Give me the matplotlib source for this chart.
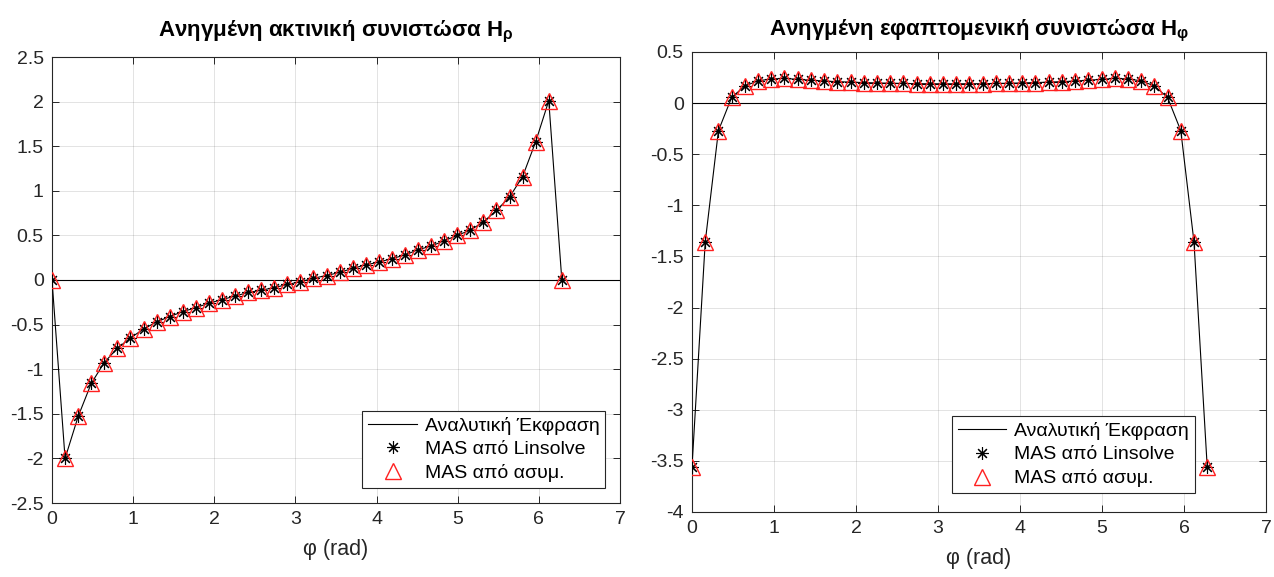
import numpy as np
import matplotlib
matplotlib.use("Agg")
import matplotlib.pyplot as plt
from matplotlib.lines import Line2D

plt.rcParams['font.family'] = ['Liberation Sans', 'DejaVu Sans']
plt.rcParams['axes.unicode_minus'] = False
plt.rcParams['mathtext.fontset'] = 'custom'
plt.rcParams['mathtext.rm'] = 'Liberation Sans'
plt.rcParams['mathtext.bf'] = 'Liberation Sans:bold'

# 40 σημεία στο [0, 2π]
phi = np.linspace(0, 2 * np.pi, 40)

# Ανηγμένη ακτινική συνιστώσα H_rho
h_rho = [0.0, -2.00, -1.53, -1.16, -0.925, -0.765, -0.65, -0.55, -0.47, -0.41,
         -0.355, -0.31, -0.26, -0.22, -0.18, -0.14, -0.115, -0.085, -0.05, -0.02,
         0.02, 0.05, 0.085, 0.13, 0.17, 0.20, 0.24, 0.28, 0.34, 0.38,
         0.44, 0.50, 0.56, 0.65, 0.78, 0.93, 1.16, 1.55, 2.01, 0.0]

# Ανηγμένη εφαπτομενική συνιστώσα H_phi
h_phi = [-3.56, -1.36, -0.27, 0.055, 0.168, 0.218, 0.236, 0.242, 0.232, 0.224,
         0.216, 0.210, 0.205, 0.201, 0.197, 0.194, 0.192, 0.190, 0.189, 0.189,
         0.189, 0.189, 0.190, 0.192, 0.194, 0.197, 0.201, 0.205, 0.210, 0.216,
         0.224, 0.232, 0.242, 0.236, 0.218, 0.168, 0.055, -0.27, -1.36, -3.56]

labels = ['Αναλυτική Έκφραση', 'MAS από Linsolve', 'MAS από ασυμ.']
titles = ['Ανηγμένη ακτινική συνιστώσα $\\mathbf{H_{ρ}}$',
          'Ανηγμένη εφαπτομενική συνιστώσα $\\mathbf{H_{φ}}$']
ylims = [(-2.5, 2.5), (-4, 0.5)]
yticks = [np.arange(-2.5, 2.51, 0.5), np.arange(-4, 0.51, 0.5)]
title_pads = [15, 12]
legend_pos = [(0.974, 0.034), (0.876, 0.041)]

dark = '#262626'
star = (8, 2, 0)

fig = plt.figure(figsize=(12.74, 5.77), dpi=100)
ax1 = fig.add_axes([52 / 1274, 1 - 503 / 577, 568 / 1274, 446 / 577])
ax2 = fig.add_axes([692 / 1274, 1 - 512 / 577, 574 / 1274, 460 / 577])

for i, ax in enumerate([ax1, ax2]):
    y = [h_rho, h_phi][i]
    ax.plot(phi, y, color='black', lw=0.8, zorder=3)
    ax.plot(phi, y, ls='none', marker=star, ms=9, mec='black', mew=0.8, zorder=4)
    ax.plot(phi, y, ls='none', marker='^', ms=11, mec='#ff2020', mfc='none', mew=1.0, zorder=5)
    ax.axhline(0, color='black', lw=0.8, zorder=2)

    ax.set_xlim(0, 7)
    ax.set_ylim(*ylims[i])
    ax.set_xticks(range(0, 8))
    ax.set_yticks(yticks[i])
    ax.set_yticklabels([('%g' % v) for v in yticks[i]])
    ax.grid(True, color=dark, alpha=0.15, lw=0.6)
    ax.set_axisbelow(True)
    ax.tick_params(direction='in', top=True, right=True, length=5, width=0.7,
                   colors=dark, labelsize=14, pad=6)
    for s in ax.spines.values():
        s.set_color(dark)
        s.set_linewidth(0.8)
    ax.set_title(titles[i], fontsize=16, fontweight='bold', pad=title_pads[i])
    ax.set_xlabel('φ (rad)', fontsize=15.5, color=dark, labelpad=8)

    handles = [Line2D([], [], color='black', lw=0.8),
               Line2D([], [], ls='none', marker=star, ms=9, mec='black', mew=0.8),
               Line2D([], [], ls='none', marker='^', ms=11, mec='#ff2020', mfc='none', mew=1.0)]
    leg = ax.legend(handles, labels, loc='lower right', bbox_to_anchor=legend_pos[i],
                    fontsize=14, frameon=True, fancybox=False, framealpha=1,
                    edgecolor=dark, handlelength=2.5, borderpad=0.3, labelspacing=0.3,
                    handletextpad=0.4, borderaxespad=0)
    leg.get_frame().set_linewidth(0.8)

fig.savefig('out.png', dpi=100)
